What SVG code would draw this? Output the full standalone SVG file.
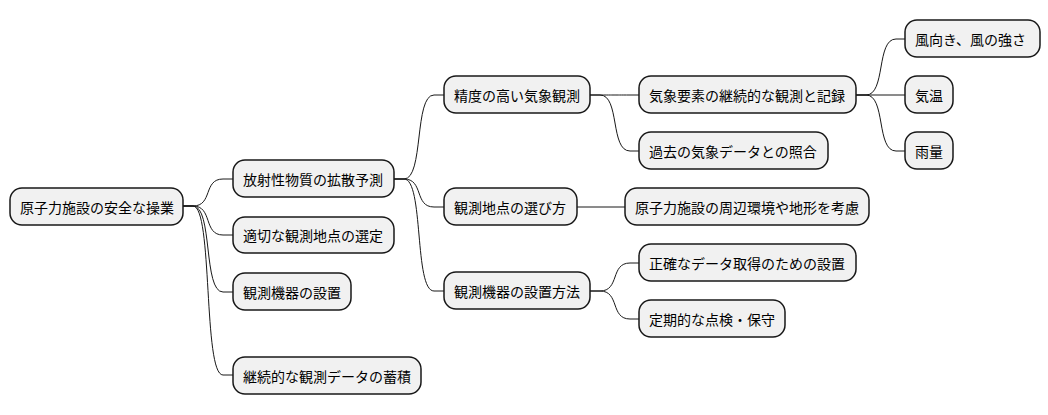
<svg xmlns="http://www.w3.org/2000/svg" width="1048" height="415" viewBox="0 0 1048 415">
<style>
.n rect{fill:#f1f1f1;stroke:#181818;stroke-width:1.5}
.n text{font-family:"Noto Sans CJK JP","Noto Sans",sans-serif;font-size:14px;fill:#000;dominant-baseline:central}
#c path{fill:none;stroke:#181818;stroke-width:1}
</style>
<rect width="1048" height="415" fill="#fff"/>
<g id="c">
<path d="M183,206 H193 C213,206 203,179 223,179 H233"/>
<path d="M183,206 H193 C213,206 203,235 223,235 H233"/>
<path d="M183,206 H193 C213,206 203,292 223,292 H233"/>
<path d="M183,206 H193 C213,206 203,375 223,375 H233"/>
<path d="M394,179 H404 C424,179 414,95 434,95 H444"/>
<path d="M394,179 H404 C424,179 414,207 434,207 H444"/>
<path d="M394,179 H404 C424,179 414,291 434,291 H444"/>
<path d="M590,95 H600 C620,95 610,95 630,95 H639"/>
<path d="M590,95 H600 C620,95 610,151 630,151 H639"/>
<path d="M577,207 H625"/>
<path d="M590,291 H600 C620,291 610,263 630,263 H639"/>
<path d="M590,291 H600 C620,291 610,319 630,319 H639"/>
<path d="M856,95 H866 C886,95 876,39 896,39 H905"/>
<path d="M856,95 H905"/>
<path d="M856,95 H866 C886,95 876,151 896,151 H905"/>
</g>
<g id="root" class="n"><rect x="10" y="188" width="173" height="37" rx="12"/><text x="20" y="206.5">原子力施設の安全な操業</text></g>
<g id="a1" class="n"><rect x="233" y="160" width="161" height="37" rx="12"/><text x="243" y="178.5">放射性物質の拡散予測</text></g>
<g id="a2" class="n"><rect x="233" y="217" width="161" height="36" rx="12"/><text x="243" y="235">適切な観測地点の選定</text></g>
<g id="a3" class="n"><rect x="233" y="273" width="118" height="37" rx="12"/><text x="243" y="291.5">観測機器の設置</text></g>
<g id="a4" class="n"><rect x="233" y="357" width="188" height="37" rx="12"/><text x="243" y="375.5">継続的な観測データの蓄積</text></g>
<g id="b1" class="n"><rect x="444" y="76" width="146" height="37" rx="12"/><text x="454" y="94.5">精度の高い気象観測</text></g>
<g id="b2" class="n"><rect x="444" y="188" width="133" height="37" rx="12"/><text x="454" y="206.5">観測地点の選び方</text></g>
<g id="b3" class="n"><rect x="444" y="272" width="146" height="37" rx="12"/><text x="454" y="290.5">観測機器の設置方法</text></g>
<g id="c1" class="n"><rect x="639" y="76" width="217" height="37" rx="12"/><text x="649" y="94.5">気象要素の継続的な観測と記録</text></g>
<g id="c2" class="n"><rect x="639" y="132" width="189" height="37" rx="12"/><text x="649" y="150.5">過去の気象データとの照合</text></g>
<g id="c3" class="n"><rect x="625" y="188" width="244" height="37" rx="12"/><text x="635" y="206.5">原子力施設の周辺環境や地形を考慮</text></g>
<g id="c4" class="n"><rect x="639" y="244" width="217" height="37" rx="12"/><text x="649" y="262.5">正確なデータ取得のための設置</text></g>
<g id="c5" class="n"><rect x="639" y="300" width="146" height="37" rx="12"/><text x="649" y="318.5">定期的な点検・保守</text></g>
<g id="d1" class="n"><rect x="905" y="20" width="135" height="37" rx="12"/><text x="915" y="38.5">風向き、風の強さ</text></g>
<g id="d2" class="n"><rect x="905" y="76" width="48" height="37" rx="12"/><text x="915" y="94.5">気温</text></g>
<g id="d3" class="n"><rect x="905" y="132" width="48" height="37" rx="12"/><text x="915" y="150.5">雨量</text></g>
</svg>
